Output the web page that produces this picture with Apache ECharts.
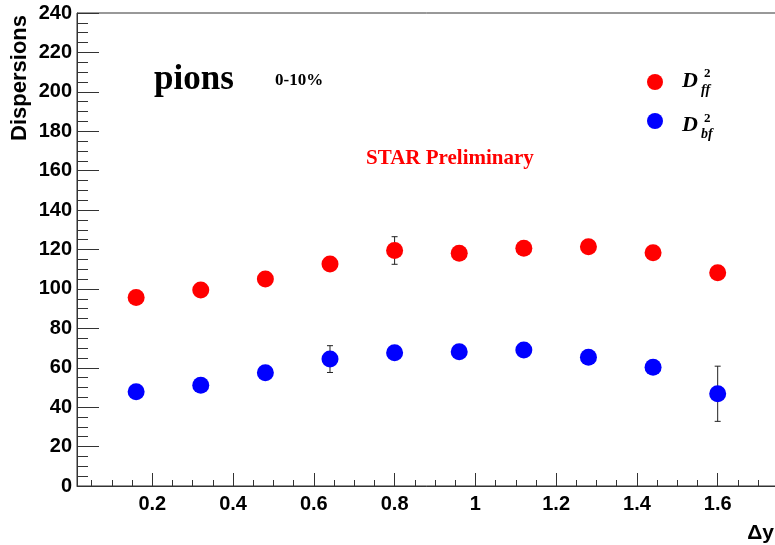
<!DOCTYPE html>
<html><head><meta charset="utf-8">
<script src="https://cdn.jsdelivr.net/npm/echarts@6/dist/echarts.min.js"></script>
<style>html,body{margin:0;padding:0;background:#fff}#c{width:775px;height:545px}</style>
</head><body><div id="c"></div>
<script>
// Data
const xValues   = [0.16, 0.32, 0.48, 0.64, 0.80, 0.96, 1.12, 1.28, 1.44, 1.60];
const dffValues = [95.7, 99.4, 105.0, 112.6, 119.5, 118.1, 120.6, 121.4, 118.3, 108.2];
const dffErrors = [2, 2, 2, 2, 7, 2, 2, 2, 2, 2];
const dbfValues = [47.8, 51.1, 57.5, 64.4, 67.6, 68.1, 69.0, 65.3, 60.2, 46.8];
const dbfErrors = [2, 2, 2, 6.8, 2, 2, 2, 2, 2, 14];
const xMajorTicks = [0.2, 0.4, 0.6, 0.8, 1.0, 1.2, 1.4, 1.6];
const xMinorTicks = [0.05, 0.1, 0.15, 0.25, 0.3, 0.35, 0.45, 0.5, 0.55, 0.65, 0.7, 0.75,
  0.85, 0.9, 0.95, 1.05, 1.1, 1.15, 1.25, 1.3, 1.35, 1.45, 1.5, 1.55, 1.65, 1.7, 1.75];
const seriesNames = ['Dff', 'Dbf'];

const chart = echarts.init(document.getElementById('c'), null, {renderer: 'canvas'});

function pts(vals) { return xValues.map((x, i) => [x, vals[i]]); }
function errs(vals, e) { return xValues.map((x, i) => [x, vals[i] - e[i], vals[i] + e[i]]); }

function errRender(params, api) {
  const x = api.value(0), lo = api.value(1), hi = api.value(2);
  const a = api.coord([x, hi]), b = api.coord([x, lo]);
  const w = 3;
  const st = {stroke: '#222', lineWidth: 1};
  return {type: 'group', children: [
    {type: 'line', shape: {x1: a[0], y1: a[1], x2: b[0], y2: b[1]}, style: st},
    {type: 'line', shape: {x1: a[0] - w, y1: a[1], x2: a[0] + w, y2: a[1]}, style: st},
    {type: 'line', shape: {x1: b[0] - w, y1: b[1], x2: b[0] + w, y2: b[1]}, style: st}
  ]};
}

const XMIN = 0.01355, XMAX = 1.7543;
const axisCol = '#333';
const labelFont = {fontFamily: 'Liberation Sans', fontWeight: 'bold', fontSize: 20, color: '#000'};
const serif = 'Liberation Serif';

chart.setOption({
  animation: false,
  grid: {left: 77, top: 13, width: 703, height: 473, outerBoundsMode: 'none', containLabel: false,
         show: true, borderColor: axisCol, borderWidth: 1, backgroundColor: 'transparent'},
  xAxis: [{
    type: 'value', min: XMIN, max: XMAX, position: 'bottom',
    axisLine: {show: true, lineStyle: {color: axisCol, width: 1}},
    axisTick: {show: true, inside: true, length: 13, customValues: xMajorTicks, lineStyle: {color: axisCol}},
    axisLabel: Object.assign({customValues: xMajorTicks, margin: 8}, labelFont),
    splitLine: {show: false}
  }, {
    type: 'value', min: XMIN, max: XMAX, position: 'bottom',
    axisLine: {show: false},
    axisTick: {show: true, inside: true, length: 6, customValues: xMinorTicks, lineStyle: {color: axisCol}},
    axisLabel: {show: false},
    splitLine: {show: false}
  }],
  yAxis: {
    type: 'value', min: 0, max: 240, interval: 20,
    axisLine: {show: true, lineStyle: {color: axisCol, width: 1}},
    axisTick: {show: true, inside: true, length: 22, lineStyle: {color: axisCol}},
    minorTick: {show: true, splitNumber: 4, length: 11, lineStyle: {color: axisCol}},
    axisLabel: Object.assign({margin: 5}, labelFont),
    splitLine: {show: false}
  },
  legend: {
    orient: 'vertical', left: 647, top: 74, padding: 0, itemGap: 23,
    itemWidth: 16, itemHeight: 16, icon: 'circle',
    formatter: () => '', selectedMode: false,
    data: seriesNames
  },
  series: [
    {type: 'custom', name: 'DffErr', renderItem: errRender, data: errs(dffValues, dffErrors), z: 1, silent: true},
    {type: 'custom', name: 'DbfErr', renderItem: errRender, data: errs(dbfValues, dbfErrors), z: 1, silent: true},
    {type: 'scatter', name: seriesNames[0], data: pts(dffValues), symbolSize: 17, itemStyle: {color: '#ff0000', opacity: 1}, z: 3},
    {type: 'scatter', name: seriesNames[1], data: pts(dbfValues), symbolSize: 17, itemStyle: {color: '#0000ff', opacity: 1}, z: 3}
  ],
  graphic: [
    {type: 'text', x: 20, y: 15, rotation: Math.PI / 2,
     style: {text: 'Dispersions', align: 'right', verticalAlign: 'middle', fontFamily: 'Liberation Sans', fontWeight: 'bold', fontSize: 22, fill: '#000'}},
    {type: 'text', x: 774, y: 533,
     style: {text: 'Δy', align: 'right', verticalAlign: 'middle', fontFamily: 'Liberation Sans', fontWeight: 'bold', fontSize: 21, fill: '#000'}},
    {type: 'text', x: 154, y: 80,
     style: {text: 'pions', align: 'left', verticalAlign: 'middle', fontFamily: serif, fontWeight: 'bold', fontSize: 35, fill: '#000'}},
    {type: 'text', x: 275, y: 81,
     style: {text: '0-10%', align: 'left', verticalAlign: 'middle', fontFamily: serif, fontWeight: 'bold', fontSize: 17, fill: '#000'}},
    {type: 'text', x: 366, y: 159,
     style: {text: 'STAR Preliminary', align: 'left', verticalAlign: 'middle', fontFamily: serif, fontWeight: 'bold', fontSize: 21, fill: '#ff0000'}},
    {type: 'text', x: 682, y: 81,
     style: {text: 'D', align: 'left', verticalAlign: 'middle', fontFamily: serif, fontStyle: 'italic', fontWeight: 'bold', fontSize: 22, fill: '#000'}},
    {type: 'text', x: 704, y: 74,
     style: {text: '2', align: 'left', verticalAlign: 'middle', fontFamily: serif, fontWeight: 'bold', fontSize: 13, fill: '#000'}},
    {type: 'text', x: 701, y: 90,
     style: {text: 'ff', align: 'left', verticalAlign: 'middle', fontFamily: serif, fontStyle: 'italic', fontWeight: 'bold', fontSize: 14, fill: '#000'}},
    {type: 'text', x: 682, y: 125,
     style: {text: 'D', align: 'left', verticalAlign: 'middle', fontFamily: serif, fontStyle: 'italic', fontWeight: 'bold', fontSize: 22, fill: '#000'}},
    {type: 'text', x: 704, y: 119,
     style: {text: '2', align: 'left', verticalAlign: 'middle', fontFamily: serif, fontWeight: 'bold', fontSize: 13, fill: '#000'}},
    {type: 'text', x: 701, y: 134,
     style: {text: 'bf', align: 'left', verticalAlign: 'middle', fontFamily: serif, fontStyle: 'italic', fontWeight: 'bold', fontSize: 14, fill: '#000'}}
  ]
});
</script>
</body></html>
